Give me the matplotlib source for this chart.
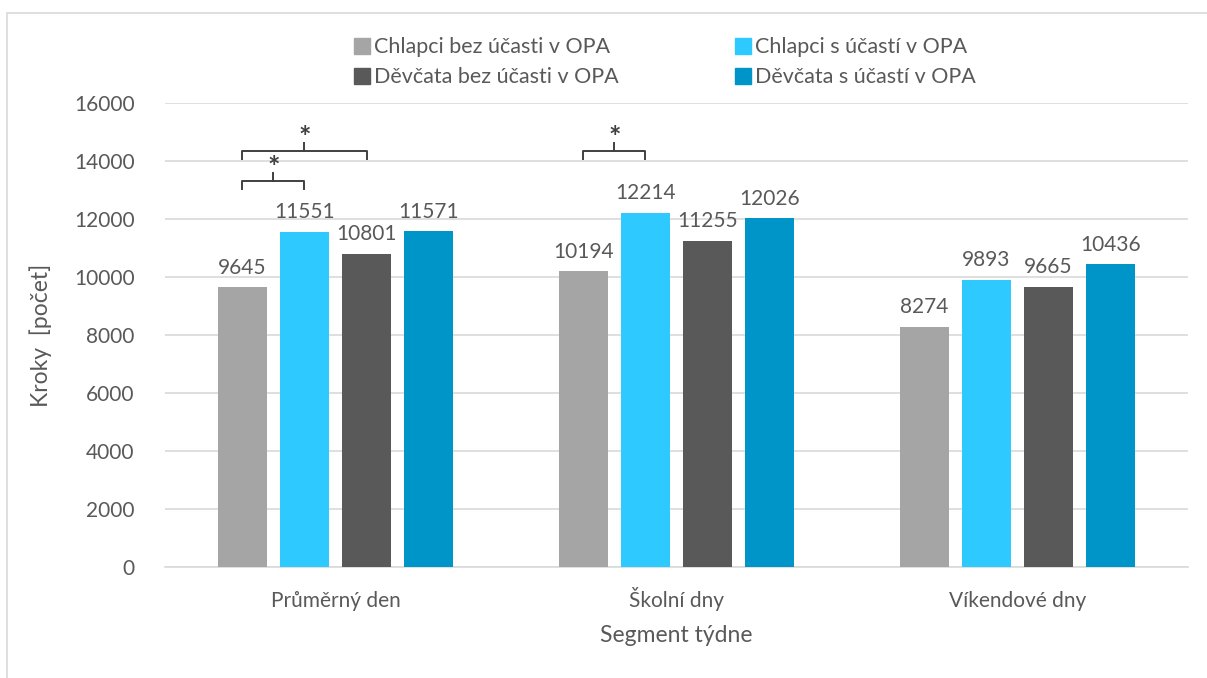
import numpy as np
import matplotlib.pyplot as plt
from matplotlib.patches import Rectangle
from matplotlib.lines import Line2D

plt.rcParams['font.family'] = ['Lato', 'DejaVu Sans']

# data
segments = ['Průměrný den', 'Školní dny', 'Víkendové dny']
series_names = ['Chlapci bez účasti v OPA', 'Chlapci s účastí v OPA',
                'Děvčata bez účasti v OPA', 'Děvčata s účastí v OPA']
chlapci_bez = [9645, 10194, 8274]
chlapci_s = [11551, 12214, 9893]
devcata_bez = [10801, 11255, 9665]
devcata_s = [11571, 12026, 10436]
# significance brackets: (segment index, bar a, bar b, level)
signif = [(0, 0, 1, 0), (0, 0, 2, 1), (1, 0, 1, 1)]

colors = ['#A5A5A5', '#2EC9FF', '#595959', '#0095C8']
txt = '#595959'

fig = plt.figure(figsize=(12.07, 6.78), dpi=100)
ax = fig.add_axes([165 / 1207, 111 / 678, 1023 / 1207, 464 / 678])

# outer chart frame (left and top edges visible)
fig.patches.append(Rectangle((7 / 1207, -0.1), 1.2, 0.1 + (678 - 13) / 678,
                             transform=fig.transFigure, fill=False,
                             edgecolor='#D9D9D9', linewidth=1.2))

x = np.arange(len(segments))
step = 0.182
width = 0.144
all_series = [chlapci_bez, chlapci_s, devcata_bez, devcata_s]
for i, vals in enumerate(all_series):
    pos = x + (i - 1.5) * step
    bars = ax.bar(pos, vals, width, color=colors[i], label=series_names[i], zorder=3)
    for b, v in zip(bars, vals):
        ax.annotate(str(v), (b.get_x() + b.get_width() / 2, v), xytext=(0, 7),
                    textcoords='offset points', ha='center', va='bottom',
                    fontsize=15, color=txt)

# brackets with asterisks
for seg, a, b, lvl in signif:
    xa = x[seg] + (a - 1.5) * step
    xb = x[seg] + (b - 1.5) * step
    ytop = 13300 + lvl * 1030
    ax.plot([xa, xa, xb, xb], [ytop - 260, ytop, ytop, ytop - 260],
            color='#404040', lw=1.4, zorder=4, clip_on=False)
    xm = (xa + xb) / 2
    ax.plot([xm, xm], [ytop, ytop + 280], color='#404040', lw=1.4, zorder=4, clip_on=False)
    ax.text(xm, ytop + 20, '*', ha='center', va='bottom', fontsize=21,
            color='#404040', fontweight='bold')

ax.set_xlim(-0.5, 2.5)
ax.set_ylim(0, 16000)
ax.set_yticks(np.arange(0, 16001, 2000))
ax.set_xticks(x)
ax.set_xticklabels(segments)
ax.yaxis.grid(True, color='#D9D9D9', lw=1.2, zorder=0)
for s in ['top', 'right', 'left']:
    ax.spines[s].set_visible(False)
ax.spines['bottom'].set_color('#D9D9D9')
ax.spines['bottom'].set_linewidth(1.2)
ax.tick_params(length=0, labelsize=15, colors=txt)
ax.tick_params(axis='y', pad=22)
ax.tick_params(axis='x', pad=29)
for lab in ax.get_xticklabels():
    lab.set_verticalalignment('baseline')
ax.set_ylabel('Kroky  [počet]', fontsize=16.5, color=txt, labelpad=16)
ax.set_xlabel('Segment týdne', fontsize=16.5, color=txt, labelpad=10)

handles = [Line2D([], [], marker='s', ls='', markersize=11, color=c) for c in colors]
order = [0, 2, 1, 3]
fig.legend([handles[i] for i in order], [series_names[i] for i in order],
           ncol=2, loc='upper left', bbox_to_anchor=(332 / 1207, 1 - 18 / 678),
           frameon=False, fontsize=15.5, labelcolor=txt, handletextpad=0.05,
           columnspacing=5.3, labelspacing=0.45, handlelength=1.0)

fig.savefig('out.png', dpi=100, facecolor='white')
